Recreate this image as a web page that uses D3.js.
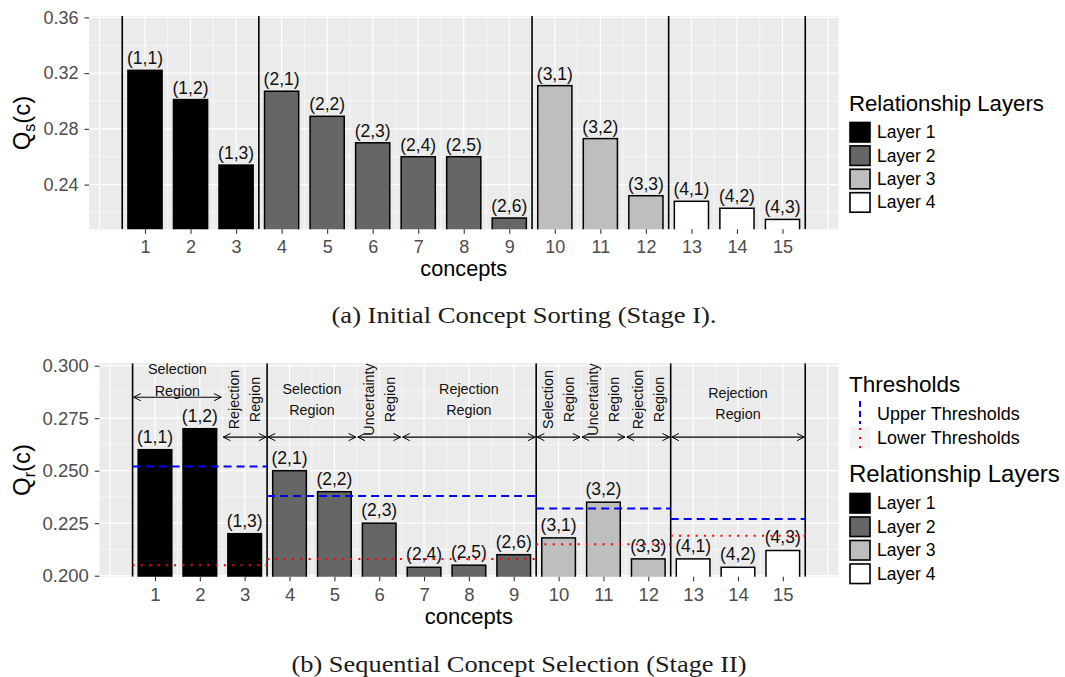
<!DOCTYPE html>
<html>
<head>
<meta charset="utf-8">
<script src="https://cdn.jsdelivr.net/npm/d3@7"></script>
<style>
  body { margin: 0; background: #fff; }
  svg text { font-family: "Liberation Sans", Arial, Helvetica, sans-serif; }
  svg text.caption { font-family: "Liberation Serif", "Times New Roman", serif; }
</style>
</head>
<body>
<svg id="chart" width="1065" height="677"></svg>
<script>
// concepts and their (layer, rank) labels
const concepts = [1, 2, 3, 4, 5, 6, 7, 8, 9, 10, 11, 12, 13, 14, 15];
const layerOf = [1, 1, 1, 2, 2, 2, 2, 2, 2, 3, 3, 3, 4, 4, 4];
const pairLabels = ["(1,1)", "(1,2)", "(1,3)", "(2,1)", "(2,2)", "(2,3)", "(2,4)", "(2,5)",
  "(2,6)", "(3,1)", "(3,2)", "(3,3)", "(4,1)", "(4,2)", "(4,3)"];

// Stage I scores Qs(c)
const qsValues = [0.322, 0.301, 0.254, 0.307, 0.289, 0.270, 0.260, 0.260, 0.216,
  0.311, 0.273, 0.232, 0.228, 0.223, 0.215];
// Stage II scores Qr(c)
const qrValues = [0.260, 0.270, 0.220, 0.250, 0.240, 0.225, 0.204, 0.205, 0.210,
  0.218, 0.235, 0.208, 0.208, 0.204, 0.212];

const layerNames = ["Layer 1", "Layer 2", "Layer 3", "Layer 4"];
const layerFills = ["#000000", "#666666", "#bebebe", "#ffffff"];
const layerBounds = [0.5, 3.5, 9.5, 12.5, 15.5];

// thresholds per layer (stage II)
const upperThresholds = [0.252, 0.238, 0.232, 0.227];
const lowerThresholds = [0.205, 0.208, 0.215, 0.219];

// region arrows: [from, to, level]
const regionArrows = [
  [0.5, 2.5, 0.285], [2.5, 3.5, 0.266],
  [3.5, 5.5, 0.266], [5.5, 6.5, 0.266], [6.5, 9.5, 0.266],
  [9.5, 10.5, 0.266], [10.5, 11.5, 0.266], [11.5, 12.5, 0.266],
  [12.5, 15.5, 0.266]
];
// region labels: [x, level, first line, second line, rotated]
const regionLabels = [
  [1.5, 0.2932, "Selection", "Region", false],
  [3, 0.2839, "Rejection", "Region", true],
  [4.5, 0.2838, "Selection", "Region", false],
  [6, 0.2839, "Uncertainty", "Region", true],
  [8, 0.2838, "Rejection", "Region", false],
  [10, 0.2839, "Selection", "Region", true],
  [11, 0.2839, "Uncertainty", "Region", true],
  [12, 0.2839, "Rejection", "Region", true],
  [14, 0.2819, "Rejection", "Region", false]
];

const qsTicks = [0.24, 0.28, 0.32, 0.36];
const qrTicks = [0.200, 0.225, 0.250, 0.275, 0.300];

const svg = d3.select("#chart");
svg.append("rect").attr("width", 1065).attr("height", 677).attr("fill", "#fff");

const defs = svg.append("defs");
defs.append("marker")
  .attr("id", "openArrow")
  .attr("viewBox", "0 0 10 10")
  .attr("refX", 9).attr("refY", 5)
  .attr("markerWidth", 9).attr("markerHeight", 9)
  .attr("markerUnits", "userSpaceOnUse")
  .attr("orient", "auto-start-reverse")
  .append("path")
  .attr("d", "M1,1 L9,5 L1,9")
  .attr("fill", "none").attr("stroke", "#000").attr("stroke-width", 1.1);

function drawPanel(o) {
  const x = d3.scaleLinear().domain(o.xDomain).range([o.left, o.right]);
  const y = d3.scaleLinear().domain(o.yDomain).range([o.bottom, o.top]);
  const g = svg.append("g");

  g.append("rect")
    .attr("x", o.left).attr("y", o.top)
    .attr("width", o.right - o.left).attr("height", o.bottom - o.top)
    .attr("fill", "#ebebeb");

  defs.append("clipPath").attr("id", o.id + "clip")
    .append("rect")
    .attr("x", o.left).attr("y", o.top)
    .attr("width", o.right - o.left).attr("height", o.bottom - o.top);

  // grid
  const step = o.ticks[1] - o.ticks[0];
  const yMinor = o.ticks.map(t => t - step / 2).filter(t => t > o.yDomain[0] && t < o.yDomain[1]);
  const xMajor = [0].concat(concepts, [16]);
  const xMinor = xMajor.slice(1).map(t => t - 0.5);

  g.selectAll(".yminor").data(yMinor).enter().append("line")
    .attr("x1", o.left).attr("x2", o.right)
    .attr("y1", d => y(d)).attr("y2", d => y(d))
    .attr("stroke", "#fff").attr("stroke-width", 0.6);
  g.selectAll(".xminor").data(xMinor).enter().append("line")
    .attr("y1", o.top).attr("y2", o.bottom)
    .attr("x1", d => x(d)).attr("x2", d => x(d))
    .attr("stroke", "#fff").attr("stroke-width", 0.6);
  g.selectAll(".ymajor").data(o.ticks).enter().append("line")
    .attr("x1", o.left).attr("x2", o.right)
    .attr("y1", d => y(d)).attr("y2", d => y(d))
    .attr("stroke", "#fff").attr("stroke-width", 1.2);
  g.selectAll(".xmajor").data(xMajor).enter().append("line")
    .attr("y1", o.top).attr("y2", o.bottom)
    .attr("x1", d => x(d)).attr("x2", d => x(d))
    .attr("stroke", "#fff").attr("stroke-width", 1.2);

  const plot = g.append("g").attr("clip-path", "url(#" + o.id + "clip)");

  // bars
  plot.selectAll(".bar").data(o.values).enter().append("rect")
    .attr("x", (d, i) => x(concepts[i] - 0.375))
    .attr("width", (d, i) => x(concepts[i] + 0.375) - x(concepts[i] - 0.375))
    .attr("y", d => y(d))
    .attr("height", d => o.bottom + 5 - y(d))
    .attr("fill", (d, i) => layerFills[layerOf[i] - 1])
    .attr("stroke", "#000").attr("stroke-width", 1.5);

  // layer separators
  plot.selectAll(".sep").data(layerBounds).enter().append("line")
    .attr("x1", d => x(d)).attr("x2", d => x(d))
    .attr("y1", o.top).attr("y2", o.bottom)
    .attr("stroke", "#000").attr("stroke-width", 1.6);

  // bar labels
  plot.selectAll(".lab").data(o.values).enter().append("text")
    .attr("x", (d, i) => x(concepts[i]))
    .attr("y", d => y(d) - o.labelGap)
    .attr("text-anchor", "middle")
    .attr("font-size", o.labelSize)
    .attr("fill", "#111")
    .text((d, i) => pairLabels[i]);

  // axes
  const xAxis = d3.axisBottom(x).tickValues(concepts).tickSize(4.5).tickPadding(o.xPad);
  const yAxis = d3.axisLeft(y).tickValues(o.ticks).tickSize(4.5).tickPadding(6)
    .tickFormat(d3.format(o.fmt));

  const gx = svg.append("g").attr("transform", "translate(0," + o.bottom + ")").call(xAxis);
  const gy = svg.append("g").attr("transform", "translate(" + o.left + ",0)").call(yAxis);
  [gx, gy].forEach(a => {
    a.select(".domain").remove();
    a.selectAll(".tick line").attr("stroke", "#333").attr("stroke-width", 1.1);
    a.selectAll(".tick text").attr("fill", "#4d4d4d").attr("font-size", o.tickSize)
      .style("font-family", '"Liberation Sans", Arial, sans-serif');
  });

  // axis titles
  svg.append("text")
    .attr("x", (o.left + o.right) / 2).attr("y", o.xTitleY)
    .attr("text-anchor", "middle").attr("font-size", o.titleSize)
    .text("concepts");

  const yt = svg.append("text")
    .attr("transform", "translate(30," + o.yTitleCenter + ") rotate(-90)")
    .attr("text-anchor", "middle").attr("font-size", 24);
  yt.append("tspan").text("Q");
  yt.append("tspan").attr("font-size", 16).attr("dy", 5).text(o.sub);
  yt.append("tspan").attr("dy", -5).text("(c)");

  return { x, y, plot };
}

function layerLegend(titleBaseline, titleSize, keyTop, keyStep) {
  const lg = svg.append("g");
  lg.append("text").attr("x", 849).attr("y", titleBaseline)
    .attr("font-size", titleSize).text("Relationship Layers");
  const rows = lg.selectAll(".row").data(layerNames).enter().append("g")
    .attr("transform", (d, i) => "translate(849," + (keyTop + i * keyStep) + ")");
  rows.append("rect").attr("x", -0.5).attr("y", -0.5).attr("width", 23).attr("height", 22.5)
    .attr("fill", "#f2f2f2");
  rows.append("rect").attr("x", 1).attr("y", 1).attr("width", 20).attr("height", 19.5)
    .attr("fill", (d, i) => layerFills[i]).attr("stroke", "#000").attr("stroke-width", 1.6);
  rows.append("text").attr("x", 28).attr("y", 10.5).attr("dy", "0.35em")
    .attr("font-size", 17.5).text(d => d);
}

// ---------- (a) Stage I ----------
const panelA = drawPanel({
  id: "a", values: qsValues, ticks: qsTicks, fmt: ".2f", sub: "s",
  xDomain: [-0.23, 16.23], yDomain: [0.2079, 0.361],
  left: 89, right: 838.5, top: 16, bottom: 229.3,
  labelGap: 6, labelSize: 17.5, tickSize: 18, xPad: 6.8,
  titleSize: 21.7, xTitleY: 276, yTitleCenter: 123
});
layerLegend(110.5, 22.2, 121.5, 23.4);

svg.append("text").attr("class", "caption")
  .attr("x", 524).attr("y", 323).attr("text-anchor", "middle")
  .attr("font-size", 23).attr("fill", "#1a1a1a")
  .attr("textLength", 385).attr("lengthAdjust", "spacingAndGlyphs")
  .text("(a) Initial Concept Sorting (Stage I).");

// ---------- (b) Stage II ----------
const panelB = drawPanel({
  id: "b", values: qrValues, ticks: qrTicks, fmt: ".3f", sub: "r",
  xDomain: [-0.242, 16.242], yDomain: [0.19952, 0.30114],
  left: 99.3, right: 838.5, top: 363.3, bottom: 576.7,
  labelGap: 7, labelSize: 17.5, tickSize: 18.5, xPad: 6.8,
  titleSize: 22, xTitleY: 624, yTitleCenter: 470
});

// thresholds
panelB.plot.selectAll(".upper").data(upperThresholds).enter().append("line")
  .attr("x1", (d, i) => panelB.x(layerBounds[i])).attr("x2", (d, i) => panelB.x(layerBounds[i + 1]))
  .attr("y1", d => panelB.y(d)).attr("y2", d => panelB.y(d))
  .attr("stroke", "#0000ff").attr("stroke-width", 2).attr("stroke-dasharray", "8,5");
panelB.plot.selectAll(".lower").data(lowerThresholds).enter().append("line")
  .attr("x1", (d, i) => panelB.x(layerBounds[i])).attr("x2", (d, i) => panelB.x(layerBounds[i + 1]))
  .attr("y1", d => panelB.y(d)).attr("y2", d => panelB.y(d))
  .attr("stroke", "#ff0000").attr("stroke-width", 2).attr("stroke-dasharray", "2,6.3");

// region arrows
panelB.plot.selectAll(".arr").data(regionArrows).enter().append("line")
  .attr("x1", d => panelB.x(d[0]) + 1).attr("x2", d => panelB.x(d[1]) - 1)
  .attr("y1", d => panelB.y(d[2])).attr("y2", d => panelB.y(d[2]))
  .attr("stroke", "#000").attr("stroke-width", 1.1)
  .attr("marker-start", "url(#openArrow)").attr("marker-end", "url(#openArrow)");

// region labels
const rl = panelB.plot.selectAll(".rl").data(regionLabels).enter().append("text")
  .attr("transform", d => "translate(" + panelB.x(d[0]) + "," + panelB.y(d[1]) + ")" + (d[4] ? " rotate(-90)" : ""))
  .attr("text-anchor", "middle").attr("font-size", 14.3).attr("fill", "#111");
rl.append("tspan").attr("x", 0).attr("y", d => d[4] ? -10.5 : -10.7).attr("dy", "0.35em").text(d => d[2]);
rl.append("tspan").attr("x", 0).attr("y", d => d[4] ? 10.5 : 10.7).attr("dy", "0.35em").text(d => d[3]);

// thresholds legend
const tl = svg.append("g");
tl.append("text").attr("x", 849).attr("y", 391.5).attr("font-size", 22.5).text("Thresholds");
tl.append("rect").attr("x", 849.5).attr("y", 426.5).attr("width", 21).attr("height", 22).attr("fill", "#f2f2f2");
tl.append("line").attr("x1", 860).attr("x2", 860).attr("y1", 401).attr("y2", 424)
  .attr("stroke", "#0000ff").attr("stroke-width", 2).attr("stroke-dasharray", "6,4");
tl.append("line").attr("x1", 860).attr("x2", 860).attr("y1", 428).attr("y2", 449)
  .attr("stroke", "#ff0000").attr("stroke-width", 2).attr("stroke-dasharray", "2,7");
tl.append("text").attr("x", 877).attr("y", 414).attr("dy", "0.35em").attr("font-size", 18).text("Upper Thresholds");
tl.append("text").attr("x", 877).attr("y", 438).attr("dy", "0.35em").attr("font-size", 18).text("Lower Thresholds");

layerLegend(481.5, 24, 492.5, 23.5);

svg.append("text").attr("class", "caption")
  .attr("x", 519).attr("y", 672).attr("text-anchor", "middle")
  .attr("font-size", 23).attr("fill", "#1a1a1a")
  .attr("textLength", 455).attr("lengthAdjust", "spacingAndGlyphs")
  .text("(b) Sequential Concept Selection (Stage II)");
</script>
</body>
</html>
